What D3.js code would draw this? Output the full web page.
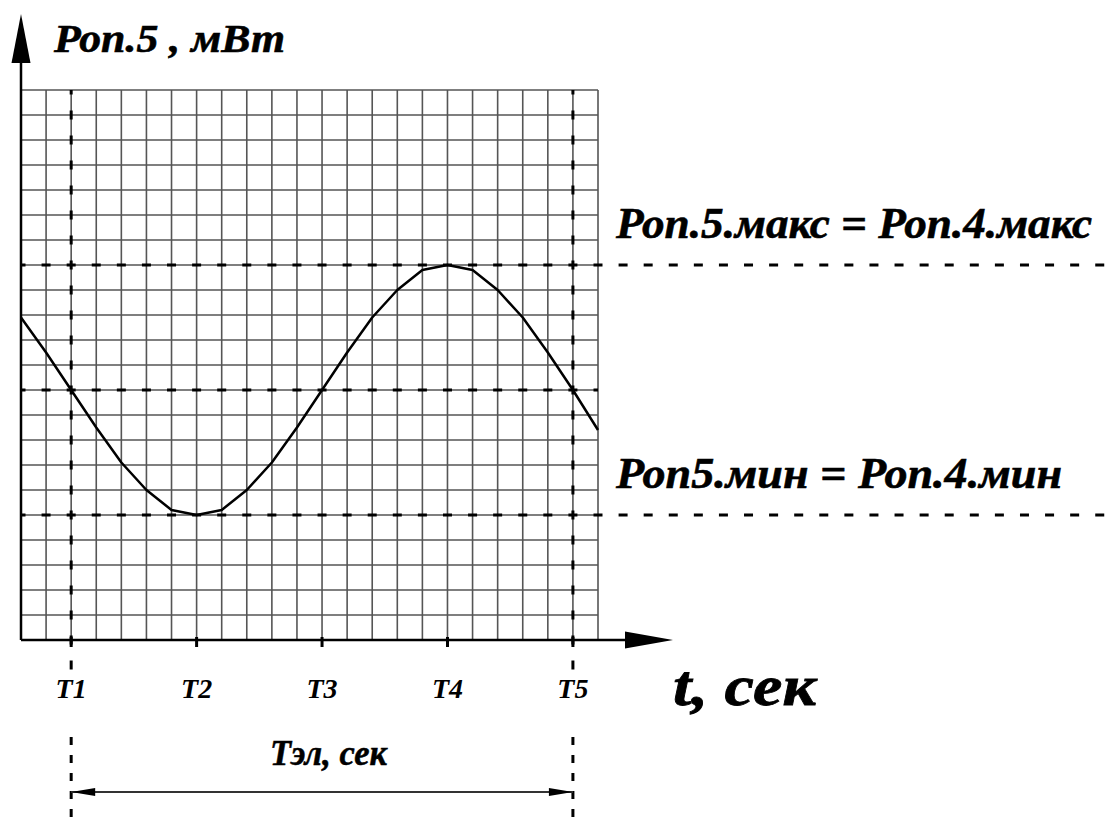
<!DOCTYPE html>
<html>
<head>
<meta charset="utf-8">
<script src="https://cdn.jsdelivr.net/npm/d3@7"></script>
<style>
  body { margin: 0; background: #fff; }
  svg { display: block; }
  text { font-family: "Liberation Serif", "Times New Roman", serif; font-style: italic; font-weight: bold; fill: #000; }
</style>
</head>
<body>
<div id="chart"></div>
<script>
// time in grid cells, power in grid cells
const tCells  = [0, 1, 2, 3, 4, 5, 6, 7, 8, 9, 10, 11, 12, 13, 14, 15, 16, 17, 18, 19, 20, 21, 22, 23];
const pValues = [12.9, 11.5, 10, 8.5, 7.1, 6.0, 5.2, 5.0, 5.2, 6.0, 7.1, 8.5, 10, 11.5, 12.9, 14.0, 14.8, 15.0, 14.8, 14.0, 12.9, 11.5, 10, 8.4];

const markerNames = ['T1', 'T2', 'T3', 'T4', 'T5'];
const markerCells = [2, 7, 12, 17, 22];

const levelValues = [15, 10, 5];          // макс, середина, мин
const levelLabels = ['Роп.5.макс = Роп.4.макс', '', 'Роп5.мин = Роп.4.мин'];

const yTitle = 'Роп.5 , мВт';
const xTitle = 't, сек';
const spanTitle = 'Тэл, сек';

const width = 1107, height = 820;
const cellsX = 23, cellsY = 22;

const svg = d3.select('#chart').append('svg')
  .attr('width', width)
  .attr('height', height);

const x = d3.scaleLinear().domain([0, cellsX]).range([21, 598]);
const y = d3.scaleLinear().domain([0, cellsY]).range([640, 90]);

const cellW = x(1) - x(0);
const cellH = y(0) - y(1);

// grid
const grid = svg.append('g').attr('stroke', '#555').attr('stroke-width', 1.6);
grid.selectAll('.vline')
  .data(d3.range(0, cellsX + 1))
  .enter().append('line')
  .attr('x1', d => x(d)).attr('x2', d => x(d))
  .attr('y1', y(0)).attr('y2', y(cellsY));
grid.selectAll('.hline')
  .data(d3.range(0, cellsY + 1))
  .enter().append('line')
  .attr('x1', x(0)).attr('x2', x(cellsX))
  .attr('y1', d => y(d)).attr('y2', d => y(d));

// horizontal dashed levels
svg.selectAll('.level')
  .data(levelValues)
  .enter().append('line')
  .attr('x1', x(0))
  .attr('x2', (d, i) => levelLabels[i] ? width : x(cellsX))
  .attr('y1', d => y(d)).attr('y2', d => y(d))
  .attr('stroke', '#000')
  .attr('stroke-width', 3)
  .attr('stroke-dasharray', `9,${cellW - 9}`)
  .attr('stroke-dashoffset', 4.5);

// vertical dashed lines at T1 and T5
const edges = [markerCells[0], markerCells[markerCells.length - 1]];
svg.selectAll('.edge')
  .data(edges)
  .enter().append('line')
  .attr('x1', d => x(d)).attr('x2', d => x(d))
  .attr('y1', y(cellsY)).attr('y2', 672)
  .attr('stroke', '#000')
  .attr('stroke-width', 3)
  .attr('stroke-dasharray', `9,${cellH - 9}`)
  .attr('stroke-dashoffset', 4.5);
svg.selectAll('.edgeLow')
  .data(edges)
  .enter().append('line')
  .attr('x1', d => x(d)).attr('x2', d => x(d))
  .attr('y1', 737).attr('y2', height)
  .attr('stroke', '#000')
  .attr('stroke-width', 3)
  .attr('stroke-dasharray', '8,10');

// axes
svg.append('line')
  .attr('x1', x(0)).attr('x2', x(0))
  .attr('y1', y(0)).attr('y2', 50)
  .attr('stroke', '#000').attr('stroke-width', 2.5);
svg.append('path')
  .attr('d', `M${x(0)},14 L${x(0) + 9.5},63 L${x(0) - 9.5},63 Z`)
  .attr('fill', '#000');

svg.append('line')
  .attr('x1', x(0)).attr('x2', 640)
  .attr('y1', y(0)).attr('y2', y(0))
  .attr('stroke', '#000').attr('stroke-width', 2.5);
svg.append('path')
  .attr('d', `M673,${y(0)} L625,${y(0) - 8.5} L625,${y(0) + 8.5} Z`)
  .attr('fill', '#000');

// ticks at T marks
svg.selectAll('.tick')
  .data(markerCells)
  .enter().append('line')
  .attr('x1', d => x(d)).attr('x2', d => x(d))
  .attr('y1', y(0) - 3).attr('y2', y(0) + 7)
  .attr('stroke', '#000').attr('stroke-width', 3);

// curve
const line = d3.line()
  .x((d, i) => x(tCells[i]))
  .y(d => y(d));
svg.append('path')
  .datum(pValues)
  .attr('d', line)
  .attr('fill', 'none')
  .attr('stroke', '#000')
  .attr('stroke-width', 2.5)
  .attr('stroke-linejoin', 'round');

// labels
const fit = (sel, w) => sel.attr('textLength', w).attr('lengthAdjust', 'spacingAndGlyphs');

fit(svg.append('text')
  .attr('x', 54).attr('y', 52)
  .attr('font-size', 41)
  .attr('stroke', '#000').attr('stroke-width', 0.6)
  .text(yTitle), 231);

svg.selectAll('.levelLabel')
  .data(levelValues.filter((d, i) => levelLabels[i]))
  .enter().append('text')
  .attr('x', 616)
  .attr('y', d => y(d) - 27)
  .attr('font-size', 45)
  .attr('stroke', '#000').attr('stroke-width', 0.6)
  .text((d, i) => levelLabels.filter(l => l)[i])
  .each(function(d, i) { fit(d3.select(this), i === 0 ? 476 : 446); });

svg.selectAll('.tLabel')
  .data(markerCells)
  .enter().append('text')
  .attr('x', d => x(d))
  .attr('y', 698)
  .attr('text-anchor', 'middle')
  .attr('font-size', 28)
  .text((d, i) => markerNames[i]);

fit(svg.append('text')
  .attr('x', 673).attr('y', 705)
  .attr('font-size', 58)
  .attr('stroke', '#000').attr('stroke-width', 0.8)
  .text(xTitle), 143);

fit(svg.append('text')
  .attr('x', 270).attr('y', 765)
  .attr('font-size', 35)
  .attr('stroke', '#000').attr('stroke-width', 0.5)
  .text(spanTitle), 117);

// dimension line T1..T5
const x1 = x(edges[0]), x2 = x(edges[1]), yd = 792;
svg.append('line')
  .attr('x1', x1).attr('x2', x2)
  .attr('y1', yd).attr('y2', yd)
  .attr('stroke', '#333').attr('stroke-width', 2);
svg.append('path')
  .attr('d', `M${x1},${yd} L${x1 + 24},${yd - 4} L${x1 + 24},${yd + 4} Z M${x2},${yd} L${x2 - 24},${yd - 4} L${x2 - 24},${yd + 4} Z`)
  .attr('fill', '#000');
</script>
</body>
</html>
